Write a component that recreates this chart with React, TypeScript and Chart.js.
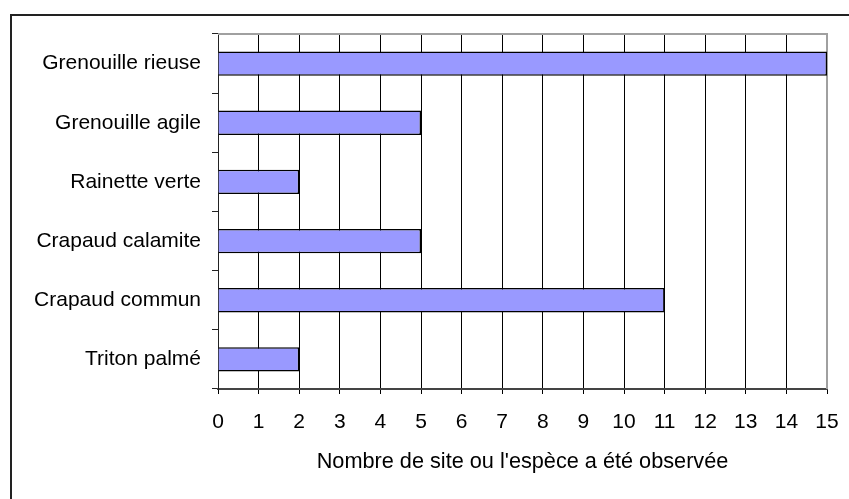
import React, { useEffect, useRef } from "react";
import { Chart, registerables } from "chart.js";

Chart.register(...registerables);

const categories = [
  "Grenouille rieuse",
  "Grenouille agile",
  "Rainette verte",
  "Crapaud calamite",
  "Crapaud commun",
  "Triton palmé",
];
const siteCounts = [15, 5, 2, 5, 11, 2];
const xTickValues = [0, 1, 2, 3, 4, 5, 6, 7, 8, 9, 10, 11, 12, 13, 14, 15];
const xAxisTitle = "Nombre de site ou l'espèce a été observée";

const FONT = "'Liberation Sans', Arial, sans-serif";

const framePlugin = {
  id: "frame",
  beforeDatasetsDraw(chart: any) {
    const { ctx, chartArea } = chart;
    ctx.save();
    ctx.strokeStyle = "#a0a0a0";
    ctx.lineWidth = 2;
    ctx.beginPath();
    ctx.moveTo(chartArea.left, chartArea.top);
    ctx.lineTo(chartArea.right, chartArea.top);
    ctx.lineTo(chartArea.right, chartArea.bottom);
    ctx.stroke();
    ctx.restore();
  },
  afterDraw(chart: any) {
    const { ctx, width, height } = chart;
    ctx.save();
    ctx.strokeStyle = "#222";
    ctx.lineWidth = 2;
    ctx.beginPath();
    ctx.moveTo(11, height);
    ctx.lineTo(11, 15);
    ctx.lineTo(width, 15);
    ctx.stroke();
    ctx.restore();
  },
};

export default function App() {
  const ref = useRef<HTMLCanvasElement>(null);
  useEffect(() => {
    document.body.style.margin = "0";
    const chart = new Chart(ref.current!, {
      type: "bar",
      data: {
        labels: categories,
        datasets: [
          {
            data: siteCounts,
            backgroundColor: "#9999ff",
            borderColor: "#000",
            borderWidth: 1.5,
            categoryPercentage: 1,
            barPercentage: 0.41,
          },
        ],
      },
      options: {
        indexAxis: "y",
        responsive: false,
        animation: false,
        layout: { padding: { top: 34, right: 22, bottom: 0, left: 0 } },
        plugins: { legend: { display: false }, tooltip: { enabled: false } },
        scales: {
          x: {
            type: "linear",
            min: 0,
            max: 15,
            afterBuildTicks: (s: any) => {
              s.ticks = xTickValues.map((v) => ({ value: v }));
            },
            afterFit: (s: any) => {
              s.height = 110;
              s.paddingLeft = 0;
              s.paddingRight = 0;
            },
            grid: {
              color: "#000",
              lineWidth: 1,
              tickLength: 5,
              drawTicks: true,
            },
            border: { color: "#444", width: 2 },
            ticks: {
              color: "#000",
              font: { family: FONT, size: 21 },
              padding: 16,
              maxRotation: 0,
              autoSkip: false,
            },
            title: {
              display: true,
              text: xAxisTitle,
              color: "#000",
              font: { family: FONT, size: 21.7 },
              padding: { top: 0, bottom: 24 },
            },
          },
          y: {
            afterFit: (s: any) => {
              s.width = 218;
              s.paddingTop = 0;
              s.paddingBottom = 0;
            },
            grid: {
              drawOnChartArea: false,
              offset: true,
              tickLength: 6,
              color: "#222",
            },
            border: { color: "#222", width: 1 },
            ticks: {
              color: "#000",
              font: { family: FONT, size: 21 },
              padding: 11,
            },
          },
        },
      },
      plugins: [framePlugin],
    });
    return () => chart.destroy();
  }, []);
  return (
    <div style={{ width: 849, height: 499 }}>
      <canvas ref={ref} width={849} height={499} style={{ display: "block" }} />
    </div>
  );
}
